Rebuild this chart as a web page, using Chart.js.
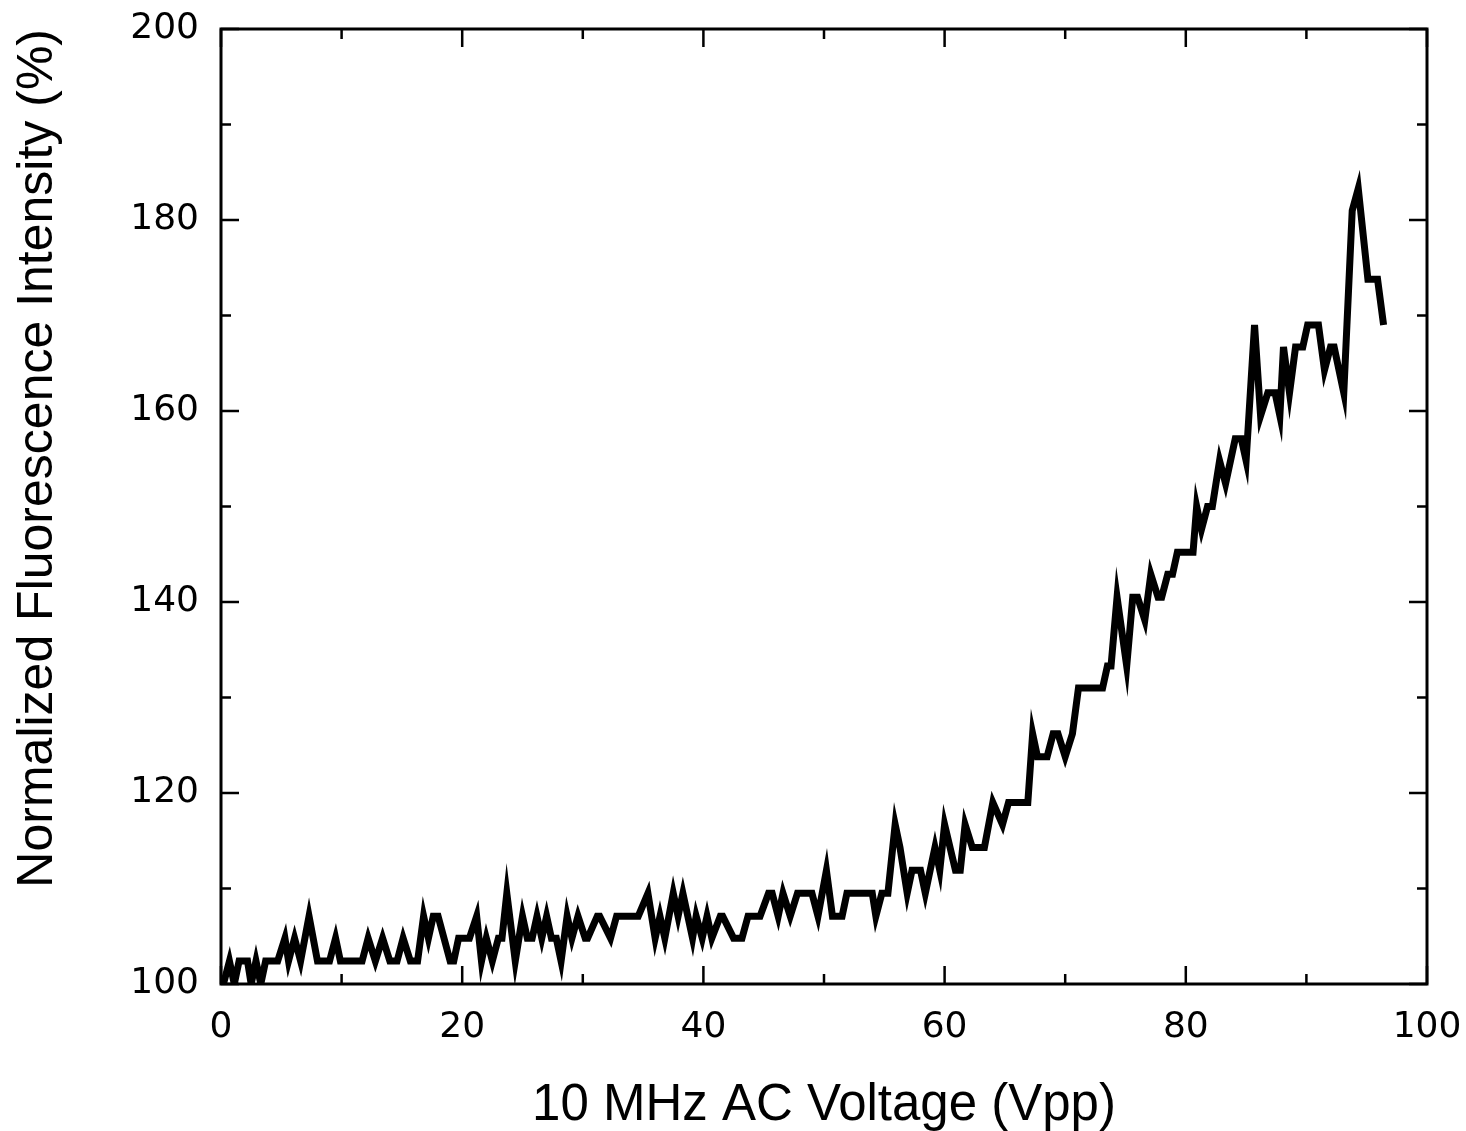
<!DOCTYPE html>
<html>
<head>
<meta charset="utf-8">
<script src="https://cdn.jsdelivr.net/npm/chart.js@4.4.1/dist/chart.umd.min.js"></script>
<style>
  body { margin: 0; background: #fff; }
  #wrap { width: 1466px; height: 1131px; position: relative; }
</style>
</head>
<body>
<div id="wrap"><canvas id="chart"></canvas></div>
<script>
// 10 MHz AC voltage (Vpp) and normalized fluorescence intensity (%)
var voltage = [
	0.2, 0.7, 1.1, 1.5, 2.2, 2.5, 2.9, 3.3, 3.7, 4.7,
	5.3, 5.6, 6.1, 6.6, 7.3, 8.0, 9.0, 9.5, 9.9, 11.7,
	12.2, 12.8, 13.4, 14.0, 14.6, 15.1, 15.7, 16.3, 16.8, 17.2,
	17.6, 18.0, 19.0, 19.3, 19.7, 20.6, 21.2, 21.6, 22.0, 22.5,
	23.0, 23.3, 23.7, 24.4, 25.0, 25.4, 25.8, 26.2, 26.6, 27.0,
	27.4, 27.8, 28.2, 28.7, 29.1, 29.6, 30.2, 30.4, 31.2, 31.4,
	32.3, 32.8, 34.6, 35.4, 36.0, 36.4, 36.8, 37.5, 37.9, 38.3,
	39.1, 39.4, 39.9, 40.3, 40.7, 41.4, 41.6, 42.5, 43.2, 43.7,
	44.7, 45.4, 45.7, 46.2, 46.6, 47.2, 47.8, 49.0, 49.5, 50.2,
	50.7, 51.5, 51.9, 54.0, 54.3, 54.8, 55.3, 55.9, 56.3, 56.9,
	57.3, 58.0, 58.4, 59.2, 59.6, 60.0, 60.9, 61.3, 61.7, 62.3,
	63.3, 64.0, 64.8, 65.3, 66.9, 67.3, 67.7, 68.5, 69.0, 69.4,
	70.0, 70.6, 71.1, 73.1, 73.5, 73.8, 74.3, 75.1, 75.6, 76.0,
	76.6, 77.1, 77.7, 78.0, 78.5, 78.9, 79.3, 80.6, 80.9, 81.3,
	81.8, 82.2, 82.8, 83.3, 84.1, 84.6, 85.0, 85.7, 86.2, 86.8,
	87.4, 87.8, 88.1, 88.6, 89.1, 89.7, 90.1, 91.0, 91.5, 92.0,
	92.3, 93.1, 93.8, 94.3, 95.1, 95.9, 96.4
];
var intensity = [
	100, 102.4, 100, 102.4, 102.4, 100, 102.4, 100, 102.4, 102.4,
	104.8, 102.4, 104.8, 102.4, 107.1, 102.4, 102.4, 104.8, 102.4, 102.4,
	104.8, 102.4, 104.8, 102.4, 102.4, 104.8, 102.4, 102.4, 107.1, 104.8,
	107.1, 107.1, 102.4, 102.4, 104.8, 104.8, 107.1, 102.4, 104.8, 102.4,
	104.8, 104.8, 109.5, 102.4, 107.1, 104.8, 104.8, 107.1, 104.8, 107.1,
	104.8, 104.8, 102.4, 107.1, 104.8, 107.1, 104.8, 104.8, 107.1, 107.1,
	104.8, 107.1, 107.1, 109.5, 104.8, 107.1, 104.8, 109.5, 107.1, 109.5,
	104.8, 107.1, 104.8, 107.1, 104.8, 107.1, 107.1, 104.8, 104.8, 107.1,
	107.1, 109.5, 109.5, 107.1, 109.5, 107.1, 109.5, 109.5, 107.1, 111.9,
	107.1, 107.1, 109.5, 109.5, 107.1, 109.5, 109.5, 116.7, 114.3, 109.5,
	111.9, 111.9, 109.5, 114.3, 111.9, 116.7, 111.9, 111.9, 116.7, 114.3,
	114.3, 119.0, 116.7, 119.0, 119.0, 126.2, 123.8, 123.8, 126.2, 126.2,
	123.8, 126.2, 131.0, 131.0, 133.3, 133.3, 140.5, 133.3, 140.5, 140.5,
	138.1, 142.9, 140.5, 140.5, 142.9, 142.9, 145.2, 145.2, 150.0, 147.6,
	150.0, 150.0, 154.8, 152.4, 157.1, 157.1, 154.8, 169.0, 159.5, 161.9,
	161.9, 159.5, 166.7, 161.9, 166.7, 166.7, 169.0, 169.0, 164.3, 166.7,
	166.7, 161.9, 181.0, 183.3, 173.8, 173.8, 169.0
];
var xMajor = [0, 20, 40, 60, 80, 100];
var xMinor = [10, 30, 50, 70, 90];
var yMajor = [100, 120, 140, 160, 180, 200];
var yMinor = [110, 130, 150, 170, 190];

var points = [];
for (var i = 0; i < voltage.length; i++) {
	points.push({x: voltage[i], y: intensity[i]});
}

// box around the plot with inward ticks on every side
var frame = {
	id: 'frame',
	afterDraw: function(chart) {
		var ctx = chart.ctx, a = chart.chartArea;
		var x = chart.scales.x, y = chart.scales.y;
		ctx.save();
		ctx.strokeStyle = '#000';
		ctx.lineWidth = 3;
		ctx.strokeRect(a.left, a.top, a.right - a.left, a.bottom - a.top);
		ctx.lineWidth = 2.5;
		ctx.beginPath();
		function xt(v, len) {
			var px = x.getPixelForValue(v);
			ctx.moveTo(px, a.bottom); ctx.lineTo(px, a.bottom - len);
			ctx.moveTo(px, a.top); ctx.lineTo(px, a.top + len);
		}
		function yt(v, len) {
			var py = y.getPixelForValue(v);
			ctx.moveTo(a.left, py); ctx.lineTo(a.left + len, py);
			ctx.moveTo(a.right, py); ctx.lineTo(a.right - len, py);
		}
		xMajor.forEach(function(v) { xt(v, 18); });
		xMinor.forEach(function(v) { xt(v, 10); });
		yMajor.forEach(function(v) { yt(v, 18); });
		yMinor.forEach(function(v) { yt(v, 10); });
		ctx.stroke();
		ctx.restore();
	}
};

// fixed axis sizes, no extra room for label overhang
function noPad(s) {
	s.paddingTop = 0; s.paddingBottom = 0;
	s.paddingLeft = 0; s.paddingRight = 0;
}

var chart = new Chart(document.getElementById('chart'), {
	type: 'line',
	data: {
		datasets: [
			{
				data: points,
				borderColor: '#000',
				borderWidth: 7,
				pointRadius: 0,
				tension: 0,
				fill: false
			}
		]
	},
	options: {
		responsive: true,
		maintainAspectRatio: false,
		animation: false,
		layout: {
			padding: {top: 29, right: 39, bottom: 0, left: 0}
		},
		plugins: {
			legend: {display: false},
			tooltip: {enabled: false}
		},
		scales: {
			x: {
				type: 'linear',
				min: 0,
				max: 100,
				afterFit: function(s) { s.height = 147; noPad(s); },
				afterBuildTicks: function(s) { s.ticks = xMajor.map(function(v) { return {value: v}; }); },
				grid: {display: false, drawTicks: false},
				border: {display: false},
				ticks: {
					padding: 22,
					color: '#000',
					maxRotation: 0,
					font: {family: 'DejaVu Sans', size: 36}
				},
				title: {
					display: true,
					text: '10 MHz AC Voltage (Vpp)',
					color: '#000',
					padding: {top: 0, bottom: 0},
					font: {family: 'Liberation Sans', size: 51, lineHeight: 1.0}
				}
			},
			y: {
				min: 100,
				max: 200,
				afterFit: function(s) { s.width = 221; noPad(s); },
				afterBuildTicks: function(s) { s.ticks = yMajor.map(function(v) { return {value: v}; }); },
				grid: {display: false, drawTicks: false},
				border: {display: false},
				ticks: {
					padding: 22,
					color: '#000',
					font: {family: 'DejaVu Sans', size: 36}
				},
				title: {
					display: true,
					text: 'Normalized Fluorescence Intensity (%)',
					color: '#000',
					align: 'end',
					padding: {top: 8, bottom: 0},
					font: {family: 'Liberation Sans', size: 50}
				}
			}
		}
	},
	plugins: [frame]
});
</script>
</body>
</html>
